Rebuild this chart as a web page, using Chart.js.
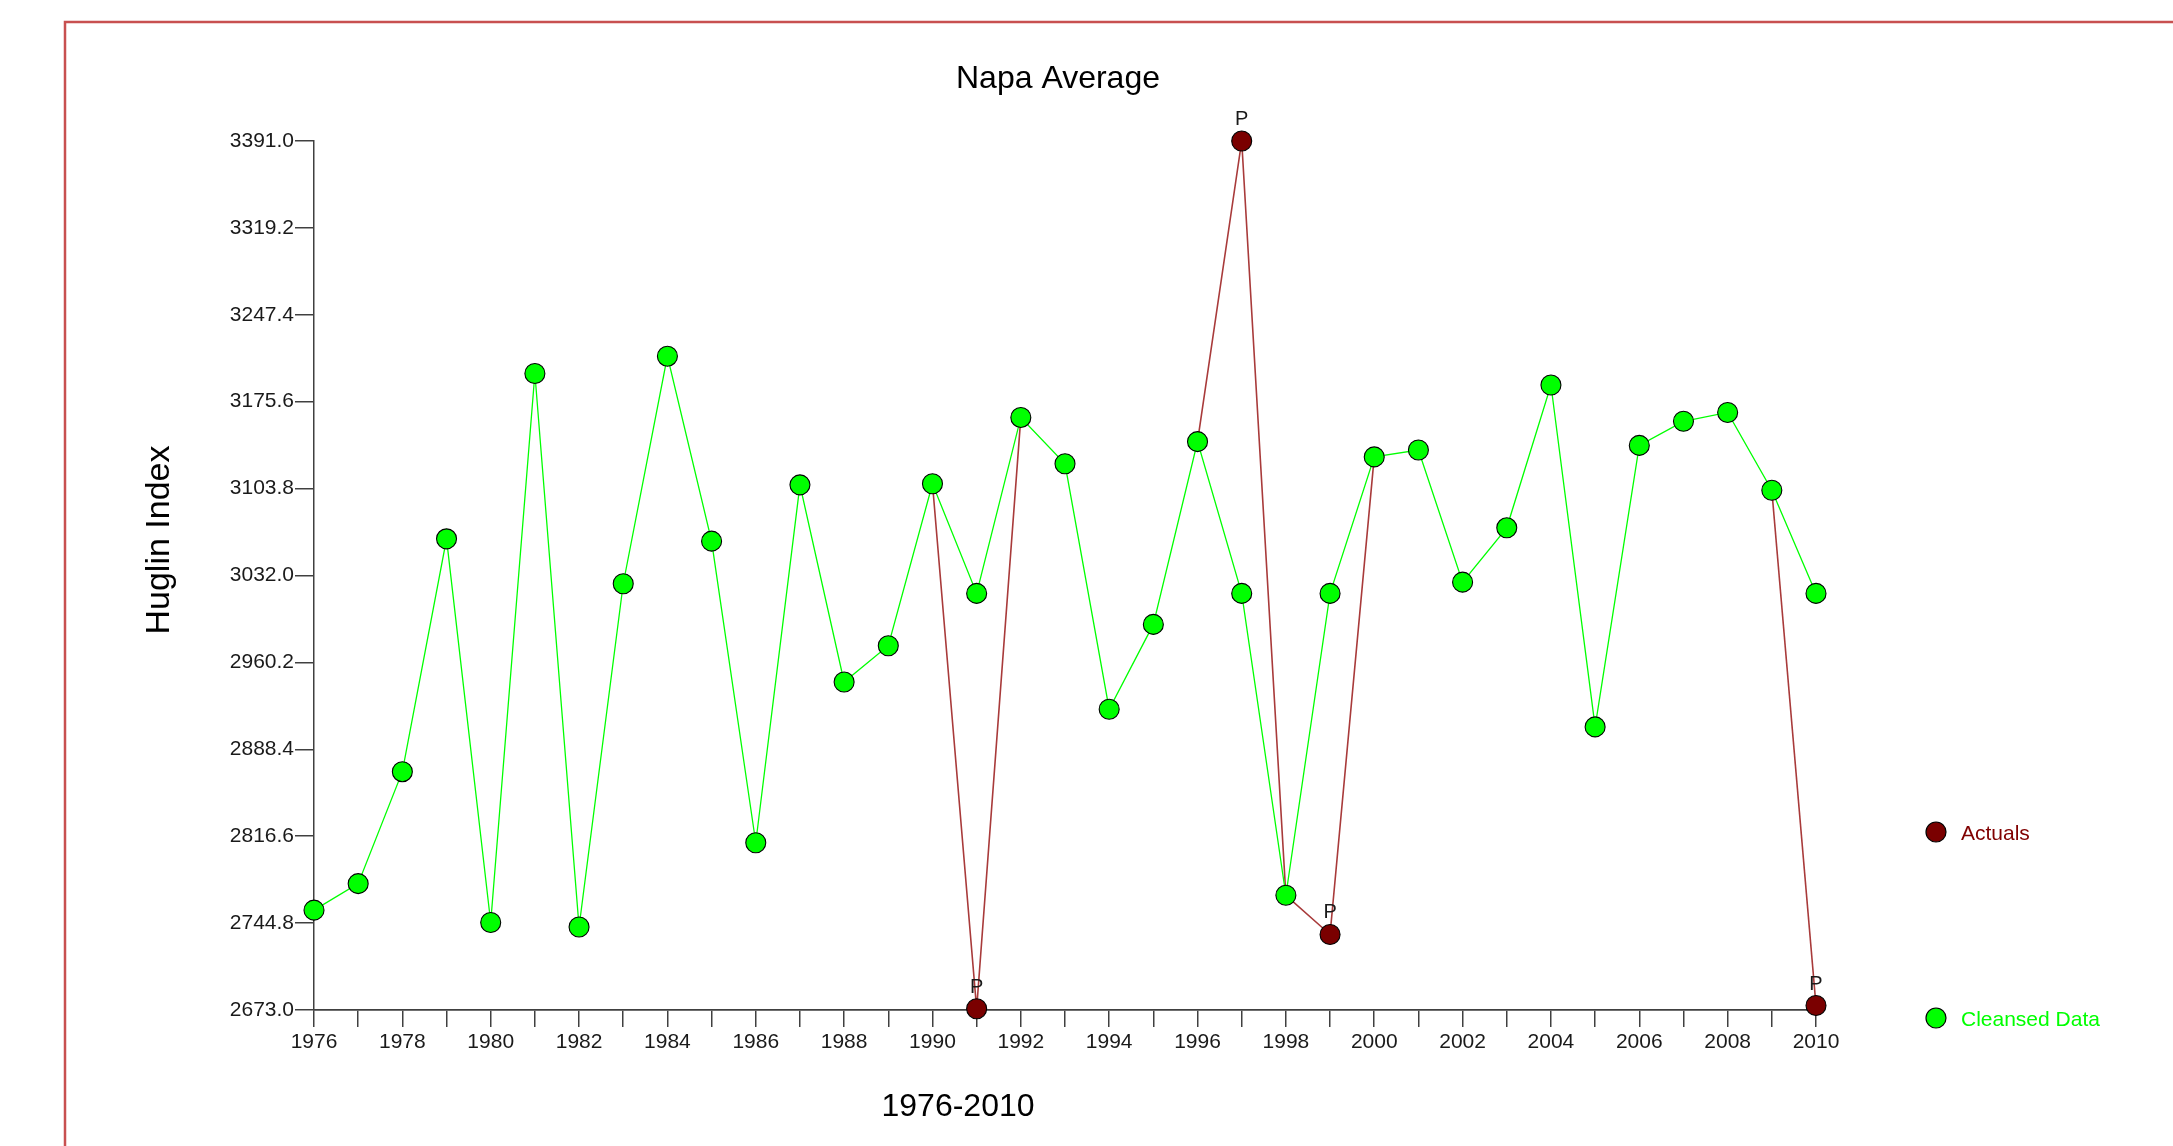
<!DOCTYPE html>
<html>
<head>
<meta charset="utf-8">
<script src="https://cdn.jsdelivr.net/npm/chart.js@4.4.1/dist/chart.umd.min.js"></script>
<style>
  html, body { margin: 0; padding: 0; background: #fff; }
  canvas { display: block; }
</style>
</head>
<body>
<canvas id="c" width="2173" height="1146"></canvas>
<script>
const chartTitle = 'Napa Average';
const xTitle = '1976-2010';
const yTitle = 'Huglin Index';

const years = [1976, 1977, 1978, 1979, 1980, 1981, 1982, 1983, 1984, 1985,
               1986, 1987, 1988, 1989, 1990, 1991, 1992, 1993, 1994, 1995,
               1996, 1997, 1998, 1999, 2000, 2001, 2002, 2003, 2004, 2005,
               2006, 2007, 2008, 2009, 2010];

const cleansed = [2755.5, 2777.4, 2869.9, 3062.3, 2745.3, 3198.9, 2741.6, 3025.2, 3213.2, 3060.4,
                  2811.2, 3106.9, 2944.0, 2974.0, 3107.8, 3017.2, 3162.6, 3124.3, 2921.5, 2991.6,
                  3142.6, 3017.2, 2767.8, 3017.2, 3130.0, 3135.7, 3026.5, 3071.4, 3189.4, 2906.9,
                  3139.5, 3159.4, 3166.7, 3102.4, 3017.2];

const actuals = [2755.5, 2777.4, 2869.9, 3062.3, 2745.3, 3198.9, 2741.6, 3025.2, 3213.2, 3060.4,
                 2811.2, 3106.9, 2944.0, 2974.0, 3107.8, 2674.0, 3162.6, 3124.3, 2921.5, 2991.6,
                 3142.6, 3391.0, 2767.8, 2735.4, 3130.0, 3135.7, 3026.5, 3071.4, 3189.4, 2906.9,
                 3139.5, 3159.4, 3166.7, 3102.4, 2676.7];

const yTicks = [2673.0, 2744.8, 2816.6, 2888.4, 2960.2, 3032.0, 3103.8, 3175.6, 3247.4, 3319.2, 3391.0];
const yTickLabels = ['2673.0', '2744.8', '2816.6', '2888.4', '2960.2', '3032.0', '3103.8', '3175.6', '3247.4', '3319.2', '3391.0'];
const xTickLabels = ['1976', '1978', '1980', '1982', '1984', '1986', '1988', '1990', '1992', '1994',
                     '1996', '1998', '2000', '2002', '2004', '2006', '2008', '2010'];

const seriesNames = ['Actuals', 'Cleansed Data'];
const markLabel = 'P';

const FONT = '"Liberation Sans", Arial, sans-serif';
const GREEN = '#00ff00';
const MAROON = '#7a0000';
const RED_LINE = '#a83a3a';
const AXIS = '#404040';

const toXY = arr => arr.map((v, i) => ({ x: years[i], y: v }));
const differs = i => actuals[i] !== cleansed[i];

const decor = {
  id: 'decor',
  beforeDraw(chart) {
    const ctx = chart.ctx;
    ctx.save();
    ctx.fillStyle = '#fff';
    ctx.fillRect(0, 0, chart.width, chart.height);
    ctx.strokeStyle = 'rgb(200,80,80)';
    ctx.lineWidth = 2.5;
    ctx.strokeRect(65, 22, 3000, 3000);
    ctx.restore();
  },
  afterDatasetsDraw(chart) {
    const ctx = chart.ctx;
    ctx.save();
    // P marks above differing actual points
    const meta = chart.getDatasetMeta(1);
    ctx.fillStyle = '#1a1a1a';
    ctx.font = '20px ' + FONT;
    ctx.textAlign = 'center';
    ctx.textBaseline = 'alphabetic';
    meta.data.forEach((el, i) => {
      if (differs(i)) ctx.fillText(markLabel, el.x, el.y - 16);
    });

    // Title
    ctx.fillStyle = '#000';
    ctx.font = '32px ' + FONT;
    ctx.fillText(chartTitle, 1058, 88);

    // X axis title
    ctx.fillText(xTitle, 958, 1116);

    // Y axis title
    ctx.save();
    ctx.translate(169, 540);
    ctx.rotate(-Math.PI / 2);
    ctx.font = '34px ' + FONT;
    ctx.fillText(yTitle, 0, 0);
    ctx.restore();

    // Legend
    const legendItems = [
      { name: seriesNames[0], fill: MAROON, text: '#800000', y: 832 },
      { name: seriesNames[1], fill: GREEN, text: GREEN, y: 1018 }
    ];
    legendItems.forEach(it => {
      ctx.beginPath();
      ctx.arc(1936, it.y, 10, 0, Math.PI * 2);
      ctx.fillStyle = it.fill;
      ctx.fill();
      ctx.lineWidth = 1.2;
      ctx.strokeStyle = '#000';
      ctx.stroke();
      ctx.fillStyle = it.text;
      ctx.font = '21px ' + FONT;
      ctx.textAlign = 'left';
      ctx.textBaseline = 'alphabetic';
      ctx.fillText(it.name, 1961, it.y + 8);
    });
    ctx.restore();
  }
};

new Chart(document.getElementById('c'), {
  type: 'line',
  data: {
    datasets: [
      {
        label: seriesNames[1],
        data: toXY(cleansed),
        borderColor: GREEN,
        borderWidth: 1.3,
        pointBackgroundColor: GREEN,
        pointBorderColor: '#000',
        pointBorderWidth: 1.1,
        pointRadius: 10,
        tension: 0,
        clip: false,
        order: 0
      },
      {
        label: seriesNames[0],
        data: toXY(actuals),
        borderColor: RED_LINE,
        borderWidth: 1.6,
        segment: {
          borderColor: c => (differs(c.p0DataIndex) || differs(c.p1DataIndex)) ? RED_LINE : 'rgba(0,0,0,0)'
        },
        pointBackgroundColor: MAROON,
        pointBorderColor: '#000',
        pointBorderWidth: 1.1,
        pointRadius: c => differs(c.dataIndex) ? 10 : 0,
        tension: 0,
        clip: false,
        order: 1
      }
    ]
  },
  options: {
    responsive: false,
    animation: false,
    devicePixelRatio: 1,
    layout: { padding: { left: 0, top: 141, right: 357, bottom: 0 } },
    plugins: {
      legend: { display: false },
      title: { display: false },
      tooltip: { enabled: false }
    },
    scales: {
      x: {
        type: 'linear',
        min: 1976,
        max: 2010,
        afterBuildTicks: s => { s.ticks = years.map(v => ({ value: v })); },
        afterFit: s => { s.height = 136; },
        grid: { drawOnChartArea: false, drawTicks: true, tickLength: 17, color: AXIS, lineWidth: 1.5 },
        border: { display: true, color: AXIS, width: 1.8 },
        ticks: {
          autoSkip: false,
          maxRotation: 0,
          minRotation: 0,
          padding: 3,
          color: '#1a1a1a',
          font: { family: FONT, size: 21 },
          callback: v => xTickLabels.includes(String(v)) ? String(v) : ''
        }
      },
      y: {
        type: 'linear',
        min: 2673,
        max: 3391,
        afterBuildTicks: s => { s.ticks = yTicks.map(v => ({ value: v })); },
        afterFit: s => { s.width = 314; },
        grid: { drawOnChartArea: false, drawTicks: true, tickLength: 19, color: AXIS, lineWidth: 1.5 },
        border: { display: true, color: AXIS, width: 1.5 },
        ticks: {
          autoSkip: false,
          padding: 1,
          color: '#1a1a1a',
          font: { family: FONT, size: 21 },
          callback: (v, i) => yTickLabels[i]
        }
      }
    }
  },
  plugins: [decor]
});
</script>
</body>
</html>
